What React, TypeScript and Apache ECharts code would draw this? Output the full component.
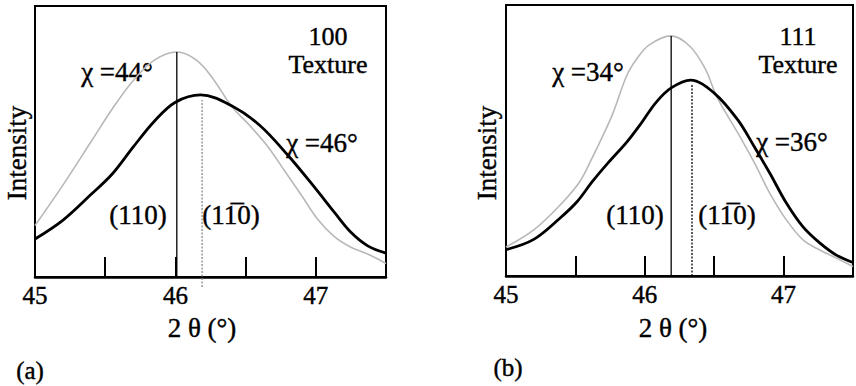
import React, { useEffect, useRef } from "react";
import * as echarts from "echarts";

// Panel (a): 100 texture
const thetaA46 = [45.0, 45.2, 45.4, 45.55, 45.7, 45.85, 46.0, 46.18, 46.4, 46.6, 46.8, 47.0, 47.13, 47.25, 47.37, 47.5];
const intA46 = [0.14, 0.21, 0.305, 0.38, 0.48, 0.575, 0.645, 0.672, 0.632, 0.56, 0.45, 0.325, 0.24, 0.165, 0.115, 0.088];
const thetaA44 = [45.0, 45.2, 45.4, 45.55, 45.7, 45.85, 46.01, 46.15, 46.27, 46.4, 46.54, 46.66, 46.78, 46.9, 47.01, 47.13, 47.25, 47.37, 47.5];
const intA44 = [0.19, 0.34, 0.5, 0.62, 0.725, 0.8, 0.83, 0.8, 0.73, 0.63, 0.553, 0.48, 0.39, 0.3, 0.215, 0.15, 0.11, 0.085, 0.05];

// Panel (b): 111 texture
const thetaB36 = [45.0, 45.2, 45.39, 45.51, 45.62, 45.74, 45.87, 45.98, 46.08, 46.19, 46.33, 46.5, 46.67, 46.79, 46.9, 47.02, 47.14, 47.26, 47.38, 47.5];
const intB36 = [0.097, 0.135, 0.214, 0.273, 0.347, 0.42, 0.494, 0.568, 0.64, 0.694, 0.723, 0.675, 0.576, 0.476, 0.38, 0.269, 0.181, 0.122, 0.077, 0.05];
const thetaB34 = [45.0, 45.2, 45.39, 45.53, 45.62, 45.7, 45.77, 45.87, 45.94, 46.03, 46.19, 46.33, 46.44, 46.52, 46.67, 46.79, 46.9, 47.02, 47.14, 47.26, 47.38, 47.5];
const intB34 = [0.107, 0.17, 0.262, 0.347, 0.435, 0.52, 0.6, 0.74, 0.8, 0.852, 0.886, 0.845, 0.76, 0.66, 0.528, 0.417, 0.306, 0.207, 0.133, 0.096, 0.066, 0.035];

// Peak marker lines: [theta, yStart, yEnd]
const peakA110 = [46.01, 0, 0.83];
const peakA1b10 = [46.19, -0.037, 0.653];
const peakB110 = [46.19, 0, 0.886];
const peakB1b10 = [46.34, 0, 0.705];

const xMin = 45;
const xMax = 47.5;
const xStep = 0.5;

const FONT = "Liberation Serif";

const zip = (xs: number[], ys: number[]) => xs.map((x, i) => [x, ys[i]]);
const vline = (p: number[]) => [[p[0], p[1]], [p[0], p[2]]];

export default function App() {
  const ref = useRef<HTMLDivElement>(null);
  useEffect(() => {
    if (!ref.current) return;
    const chart = echarts.init(ref.current, undefined, { renderer: "svg" });
    const xAxisBase = (gridIndex: number) => ({
      type: "value",
      gridIndex,
      min: xMin,
      max: xMax,
      interval: xStep,
      axisLine: { show: true, lineStyle: { color: "#000", width: 2.5 } },
      axisTick: { show: true, inside: true, length: 20, lineStyle: { color: "#000", width: 2 } },
      axisLabel: {
        color: "#000",
        fontFamily: FONT,
        fontSize: 25,
        margin: 6,
        textBorderColor: "#000",
        textBorderWidth: 0.4,
        formatter: (v: number) => (Number.isInteger(v) ? String(v) : ""),
      },
      splitLine: { show: false },
    });
    const yAxisBase = (gridIndex: number) => ({
      type: "value",
      gridIndex,
      min: 0,
      max: 1,
      show: false,
    });
    const text = (t: string, x: number, y: number, size = 27, rot = 0) => ({
      type: "text",
      x,
      y,
      rotation: rot,
      style: {
        text: t,
        fontFamily: FONT,
        fontSize: size,
        fill: "#000",
        stroke: "#000",
        lineWidth: 0.4,
        align: "center",
        verticalAlign: "middle",
      },
    });
    const curve = (data: number[][], idx: number, color: string, width: number) => ({
      type: "line",
      xAxisIndex: idx,
      yAxisIndex: idx,
      data,
      smooth: 0.35,
      showSymbol: false,
      symbol: "none",
      lineStyle: { color, width },
      silent: true,
    });
    const peak = (p: number[], idx: number, color: string, width: number, dash: any) => ({
      type: "line",
      xAxisIndex: idx,
      yAxisIndex: idx,
      data: vline(p),
      showSymbol: false,
      symbol: "none",
      clip: false,
      lineStyle: { color, width, type: dash },
      silent: true,
    });
    chart.setOption({
      animation: false,
      backgroundColor: "#fff",
      grid: [
        { left: 35, top: 6, width: 351, height: 271, show: true, borderColor: "#000", borderWidth: 2 },
        { left: 506, top: 5, width: 353, height: 271, show: true, borderColor: "#000", borderWidth: 2 },
      ],
      xAxis: [xAxisBase(0), xAxisBase(1)],
      yAxis: [yAxisBase(0), yAxisBase(1)],
      series: [
        curve(zip(thetaA44, intA44), 0, "#b8b8b8", 1.6),
        curve(zip(thetaA46, intA46), 0, "#000", 2.8),
        peak(peakA110, 0, "#000", 1.3, "solid"),
        peak(peakA1b10, 0, "#888", 1.3, [2, 1.5]),
        curve(zip(thetaB34, intB34), 1, "#b8b8b8", 1.6),
        curve(zip(thetaB36, intB36), 1, "#000", 2.8),
        peak(peakB110, 1, "#000", 1.3, "solid"),
        peak(peakB1b10, 1, "#000", 1.3, [2, 1.5]),
      ],
      graphic: [
        text("100", 328, 36, 26),
        text("Texture", 328, 64, 26),
        text("χ =44°", 117, 72),
        text("χ =46°", 322, 143),
        text("(110)", 138, 215),
        text("(11\u03050)", 231, 215),
        text("Intensity", 17, 153, 27, Math.PI / 2),
        text("2 θ (°)", 202, 328),
        text("(a)", 30, 370, 25),
        text("111", 798, 36, 26),
        text("Texture", 798, 64, 26),
        text("χ =34°", 588, 72),
        text("χ =36°", 792, 142),
        text("(110)", 635, 215),
        text("(11\u03050)", 727, 215),
        text("Intensity", 487, 153, 27, Math.PI / 2),
        text("2 θ (°)", 673, 328),
        text("(b)", 508, 367, 25),
      ],
    });
    return () => chart.dispose();
  }, []);
  return (
    <div
      ref={ref}
      style={{ position: "fixed", left: 0, top: 0, width: 856, height: 386, background: "#fff" }}
    />
  );
}
